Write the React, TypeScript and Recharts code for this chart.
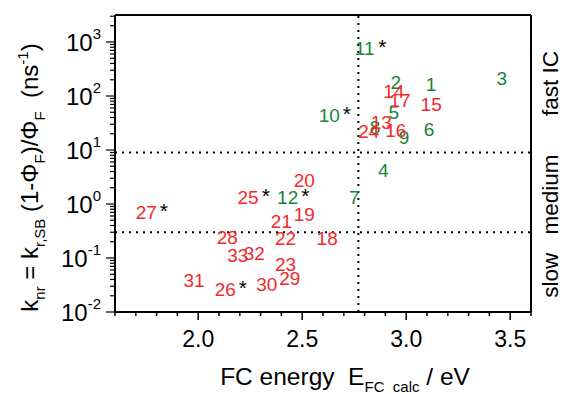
import React from 'react';
import { ScatterChart, Scatter, XAxis, YAxis, ReferenceLine, Label } from 'recharts';

const compoundIds = [1, 2, 3, 4, 5, 6, 7, 8, 9, 10, 11, 12, 13, 14, 15, 16, 17, 18, 19, 20, 21, 22, 23, 24, 25, 26, 27, 28, 29, 30, 31, 32, 33];
const fcEnergy = [3.12, 2.95, 3.46, 2.89, 2.94, 3.11, 2.75, 2.85, 2.99, 2.63, 2.80, 2.43, 2.88, 2.94, 3.12, 2.95, 2.97, 2.62, 2.51, 2.51, 2.40, 2.42, 2.42, 2.82, 2.24, 2.13, 1.75, 2.14, 2.44, 2.33, 1.98, 2.27, 2.19];
const knrRate = [167, 184, 213, 4.2, 51, 24, 1.33, 26, 17, 44, 760, 1.36, 33, 125, 71, 23.5, 82, 0.23, 0.65, 2.8, 0.49, 0.23, 0.077, 22, 1.36, 0.027, 0.72, 0.24, 0.042, 0.033, 0.039, 0.122, 0.114];
const greenIds = [1, 2, 3, 4, 5, 6, 7, 8, 9, 10, 11, 12];
const starredIds = [10, 11, 12, 25, 26, 27];

const xTicks = [1.6, 1.7, 1.8, 1.9, 2.0, 2.1, 2.2, 2.3, 2.4, 2.5, 2.6, 2.7, 2.8, 2.9, 3.0, 3.1, 3.2, 3.3, 3.4, 3.5, 3.6];
const xMajorTicks = [2.0, 2.5, 3.0, 3.5];
const yDecades = [-2, -1, 0, 1, 2, 3];
const yMultipliers = [1, 2, 3, 4, 5, 6, 7, 8, 9];
const xDomain = [1.6, 3.6];
const yDomain = [0.01, 3162.28];

const rateThresholds = [0.3, 9];
const energyThreshold = 2.77;
const regionNames = ['slow', 'medium', 'fast IC'];
const regionRates = [0.048, 1.5, 170];

const RED = '#f2292b';
const GREEN = '#17843a';
const FONT = "'Liberation Sans', Arial, sans-serif";

const yTicks: number[] = [];
yDecades.forEach((d) => {
  yMultipliers.forEach((m) => {
    const v = m * Math.pow(10, d);
    if (v <= yDomain[1]) yTicks.push(v);
  });
});

const allPoints = compoundIds.map((id, i) => ({
  id,
  energy: fcEnergy[i],
  rate: knrRate[i],
  star: starredIds.includes(id),
}));
const greenPoints = allPoints.filter((p) => greenIds.includes(p.id));
const redPoints = allPoints.filter((p) => !greenIds.includes(p.id));

const isMajorX = (v: number) => xMajorTicks.some((m) => Math.abs(m - v) < 1e-6);
const decadeOf = (v: number) => {
  const l = Math.log10(v);
  const r = Math.round(l);
  return Math.abs(l - r) < 1e-6 ? r : null;
};

const BottomTick = (props: any) => {
  const { x, y, payload } = props;
  const major = isMajorX(payload.value);
  return (
    <g>
      <line x1={x} x2={x} y1={y} y2={y + (major ? 8 : 4)} stroke="#000" strokeWidth={1.5} />
      {major && (
        <text x={x} y={y + 35} textAnchor="middle" fontSize={23} fontFamily={FONT} fill="#000">
          {payload.value.toFixed(1)}
        </text>
      )}
    </g>
  );
};

const TopTick = (props: any) => {
  const { x, y, payload } = props;
  const major = isMajorX(payload.value);
  return <line x1={x} x2={x} y1={y} y2={y + (major ? 9 : 5)} stroke="#000" strokeWidth={1.5} />;
};

const LeftTick = (props: any) => {
  const { x, y, payload } = props;
  const d = decadeOf(payload.value);
  const major = d !== null;
  return (
    <g>
      <line x1={x - (major ? 9 : 5)} x2={x} y1={y} y2={y} stroke="#000" strokeWidth={1.2} />
      {major && (
        <text x={x - 14} y={y + 9} textAnchor="end" fontSize={24} fontFamily={FONT} fill="#000">
          10
          <tspan dy={-12} fontSize={15}>
            {String(d)}
          </tspan>
        </text>
      )}
    </g>
  );
};

const RightTick = (props: any) => {
  const { x, y, payload } = props;
  const idx = regionRates.findIndex((r) => Math.abs(r - payload.value) < 1e-9);
  if (idx < 0) return <g />;
  const tx = x + 20;
  return (
    <text
      x={tx}
      y={y}
      transform={`rotate(-90 ${tx} ${y})`}
      textAnchor="middle"
      dominantBaseline="central"
      fontSize={22.5}
      fontFamily={FONT}
      fill="#000"
    >
      {regionNames[idx]}
    </text>
  );
};

const makeShape = (color: string) => (props: any) => {
  const { cx, cy, payload } = props;
  const fs = 19;
  const label = String(payload.id);
  const half = (label.length * 0.556 * fs) / 2;
  return (
    <g>
      <text x={cx} y={cy + fs * 0.36} textAnchor="middle" fontSize={fs} fontFamily={FONT} fill={color}>
        {label}
      </text>
      {payload.star && (
        <text x={cx + half + 3} y={cy + fs * 0.36 - 1} textAnchor="start" fontSize={21} fontFamily={FONT} fill="#000">
          *
        </text>
      )}
    </g>
  );
};

const XTitle = (props: any) => {
  const vb = props.viewBox || { x: 115, y: 312, width: 416, height: 82 };
  const cx = vb.x + vb.width / 2 + 22;
  const by = vb.y + 73;
  return (
    <text x={cx} y={by} textAnchor="middle" fontSize={24.5} fontFamily={FONT} fill="#000" style={{ whiteSpace: 'pre' }}>
      {'FC energy  E'}
      <tspan dy={7} fontSize={15}>
        {'FC  calc'}
      </tspan>
      <tspan dy={-7}>{' / eV'}</tspan>
    </text>
  );
};

const YTitle = (props: any) => {
  const vb = props.viewBox || { x: 0, y: 15, width: 115, height: 297 };
  const tx = vb.x + 38;
  const ty = vb.y + vb.height / 2 + 14;
  return (
    <text
      x={tx}
      y={ty}
      transform={`rotate(-90 ${tx} ${ty})`}
      textAnchor="middle"
      fontSize={24}
      fontFamily={FONT}
      fill="#000"
      style={{ whiteSpace: 'pre' }}
    >
      {'k'}
      <tspan dy={7} fontSize={15}>nr</tspan>
      <tspan dy={-7}>{' = k'}</tspan>
      <tspan dy={7} fontSize={15}>r,SB</tspan>
      <tspan dy={-7}>{' (1-Φ'}</tspan>
      <tspan dy={7} fontSize={15}>F</tspan>
      <tspan dy={-7}>{')/Φ'}</tspan>
      <tspan dy={7} fontSize={15}>F</tspan>
      <tspan dy={-7}>{'  (ns'}</tspan>
      <tspan dy={-10} fontSize={15}>-1</tspan>
      <tspan dy={10}>{')'}</tspan>
    </text>
  );
};

export default function App() {
  return (
    <div style={{ position: 'absolute', left: 0, top: 0, width: 564, height: 394, background: '#fff' }}>
      <ScatterChart width={564} height={394} margin={{ top: 0, right: 0, bottom: 0, left: 0 }}>
        <XAxis
          xAxisId="b"
          dataKey="energy"
          type="number"
          domain={xDomain}
          ticks={xTicks}
          interval={0}
          allowDataOverflow
          height={82}
          tickSize={0}
          tickMargin={0}
          tickLine={false}
          tick={<BottomTick />}
          axisLine={{ stroke: '#000', strokeWidth: 2 }}
        >
          <Label content={<XTitle />} />
        </XAxis>
        <XAxis
          xAxisId="t"
          orientation="top"
          type="number"
          domain={xDomain}
          ticks={xTicks}
          interval={0}
          allowDataOverflow
          height={15}
          tickSize={0}
          tickMargin={0}
          tickLine={false}
          tick={<TopTick />}
          axisLine={{ stroke: '#000', strokeWidth: 2 }}
        />
        <YAxis
          yAxisId="l"
          dataKey="rate"
          type="number"
          scale="log"
          domain={yDomain}
          ticks={yTicks}
          interval={0}
          allowDataOverflow
          width={115}
          tickSize={0}
          tickMargin={0}
          tickLine={false}
          tick={<LeftTick />}
          axisLine={{ stroke: '#000', strokeWidth: 2 }}
        >
          <Label content={<YTitle />} />
        </YAxis>
        <YAxis
          yAxisId="r"
          orientation="right"
          type="number"
          scale="log"
          domain={yDomain}
          ticks={regionRates}
          interval={0}
          allowDataOverflow
          width={33}
          tickSize={0}
          tickMargin={0}
          tickLine={false}
          tick={<RightTick />}
          axisLine={{ stroke: '#000', strokeWidth: 2 }}
        />
        {rateThresholds.map((r) => (
          <ReferenceLine
            key={r}
            xAxisId="b"
            yAxisId="l"
            y={r}
            stroke="#000"
            strokeWidth={2}
            strokeDasharray="2 5"
          />
        ))}
        <ReferenceLine
          xAxisId="b"
          yAxisId="l"
          x={energyThreshold}
          stroke="#000"
          strokeWidth={2}
          strokeDasharray="2 5"
        />
        <Scatter
          name="green"
          data={greenPoints}
          xAxisId="b"
          yAxisId="l"
          fill={GREEN}
          shape={makeShape(GREEN)}
          isAnimationActive={false}
        />
        <Scatter
          name="red"
          data={redPoints}
          xAxisId="b"
          yAxisId="l"
          fill={RED}
          shape={makeShape(RED)}
          isAnimationActive={false}
        />
      </ScatterChart>
    </div>
  );
}
